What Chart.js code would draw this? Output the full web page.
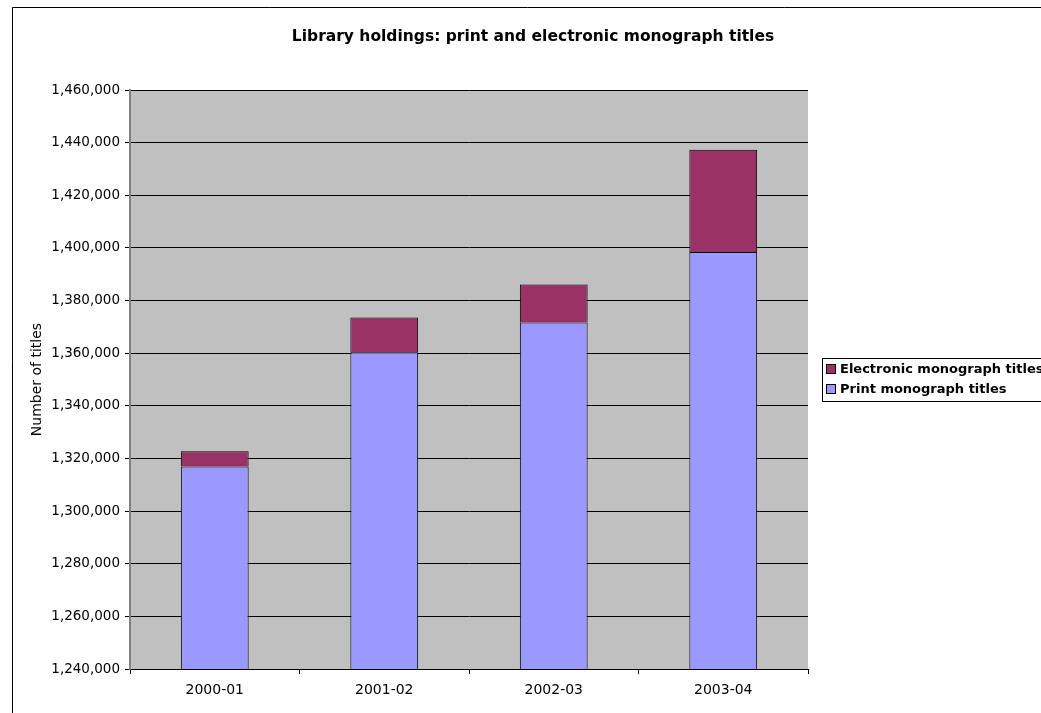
<!DOCTYPE html>
<html>
<head>
<meta charset="utf-8">
<script src="https://cdn.jsdelivr.net/npm/chart.js@4.4.1/dist/chart.umd.min.js"></script>
<style>
  html, body { margin: 0; padding: 0; background: #fff; }
  #wrap { width: 1041px; height: 713px; position: relative; }
</style>
</head>
<body>
<div id="wrap"><canvas id="c" width="1041" height="713"></canvas></div>
<script>
const chartTitle = 'Library holdings: print and electronic monograph titles';
const yAxisTitle = 'Number of titles';
const categories = ['2000-01', '2001-02', '2002-03', '2003-04'];
const printTitles = [1316900, 1360400, 1371650, 1398400];
const electronicTitles = [5800, 13150, 14400, 38900];
const yMin = 1240000;
const yMax = 1460000;
const yStep = 20000;

const FONT = '"DejaVu Sans", "Liberation Sans", Arial, sans-serif';

const framePlugin = {
  id: 'frame',
  beforeDraw(chart) {
    const { ctx, chartArea: a } = chart;
    ctx.save();
    ctx.fillStyle = '#ffffff';
    ctx.fillRect(0, 0, chart.width, chart.height);
    ctx.strokeStyle = '#000000';
    ctx.lineWidth = 1;
    ctx.beginPath();
    ctx.moveTo(12.5, chart.height + 2);
    ctx.lineTo(12.5, 7.5);
    ctx.lineTo(chart.width + 2, 7.5);
    ctx.stroke();
    ctx.fillStyle = '#C0C0C0';
    ctx.fillRect(a.left, a.top, a.right - a.left, a.bottom - a.top);
    ctx.restore();
  },
  afterDraw(chart) {
    const { ctx } = chart;
    ctx.save();
    ctx.fillStyle = '#000';
    ctx.font = 'bold 15.5px ' + FONT;
    ctx.textAlign = 'center';
    ctx.textBaseline = 'middle';
    ctx.fillText(chartTitle, 533, 37);
    const lx = 822, ly = 358, lw = 240, lh = 43;
    ctx.fillStyle = '#ffffff';
    ctx.fillRect(lx, ly, lw, lh);
    ctx.strokeStyle = '#000';
    ctx.lineWidth = 1;
    ctx.strokeRect(lx + 0.5, ly + 0.5, lw, lh);
    const items = chart.data.datasets.map((d) => ({ label: d.label, color: d.backgroundColor })).reverse();
    ctx.font = 'bold 13px ' + FONT;
    ctx.textAlign = 'left';
    items.forEach((it, i) => {
      const cy = ly + 11 + i * 20;
      ctx.fillStyle = it.color;
      ctx.fillRect(826, cy - 4, 9, 9);
      ctx.strokeStyle = '#000';
      ctx.strokeRect(826.5, cy - 4.5, 9, 9);
      ctx.fillStyle = '#000';
      ctx.fillText(it.label, 840, cy + 1);
    });
    ctx.restore();
  }
};

new Chart(document.getElementById('c'), {
  type: 'bar',
  data: {
    labels: categories,
    datasets: [
      {
        label: 'Print monograph titles',
        data: printTitles,
        backgroundColor: '#9999FF',
        borderColor: '#000000',
        borderWidth: 1,
        barPercentage: 0.4,
        categoryPercentage: 1.0
      },
      {
        label: 'Electronic monograph titles',
        data: electronicTitles,
        backgroundColor: '#993366',
        borderColor: '#000000',
        borderWidth: 1,
        barPercentage: 0.4,
        categoryPercentage: 1.0
      }
    ]
  },
  options: {
    responsive: false,
    animation: false,
    devicePixelRatio: 1,
    layout: { padding: { top: 90, right: 233, bottom: 0, left: 0 } },
    plugins: {
      legend: { display: false },
      title: { display: false },
      tooltip: { enabled: false }
    },
    scales: {
      x: {
        stacked: true,
        offset: true,
        grid: {
          offset: true,
          drawOnChartArea: false,
          drawTicks: true,
          tickLength: 5,
          color: '#000000'
        },
        border: { color: '#000000', width: 1 },
        ticks: {
          color: '#000000',
          font: { family: FONT, size: 14 },
          padding: 8,
          maxRotation: 0
        },
        afterFit(scale) { scale.height = 44; }
      },
      y: {
        stacked: true,
        min: yMin,
        max: yMax,
        grid: {
          color: '#000000',
          lineWidth: 1,
          drawTicks: true,
          tickLength: 5
        },
        border: { color: '#808080', width: 2 },
        ticks: {
          stepSize: yStep,
          color: '#000000',
          font: { family: FONT, size: 13.5 },
          padding: 5,
          callback: (v) => Number(v).toLocaleString('en-US')
        },
        title: {
          display: true,
          text: yAxisTitle,
          color: '#000000',
          font: { family: FONT, size: 14 },
          padding: { top: 29, bottom: 0 }
        },
        afterFit(scale) { scale.width = 130; }
      }
    }
  },
  plugins: [framePlugin]
});
</script>
</body>
</html>
